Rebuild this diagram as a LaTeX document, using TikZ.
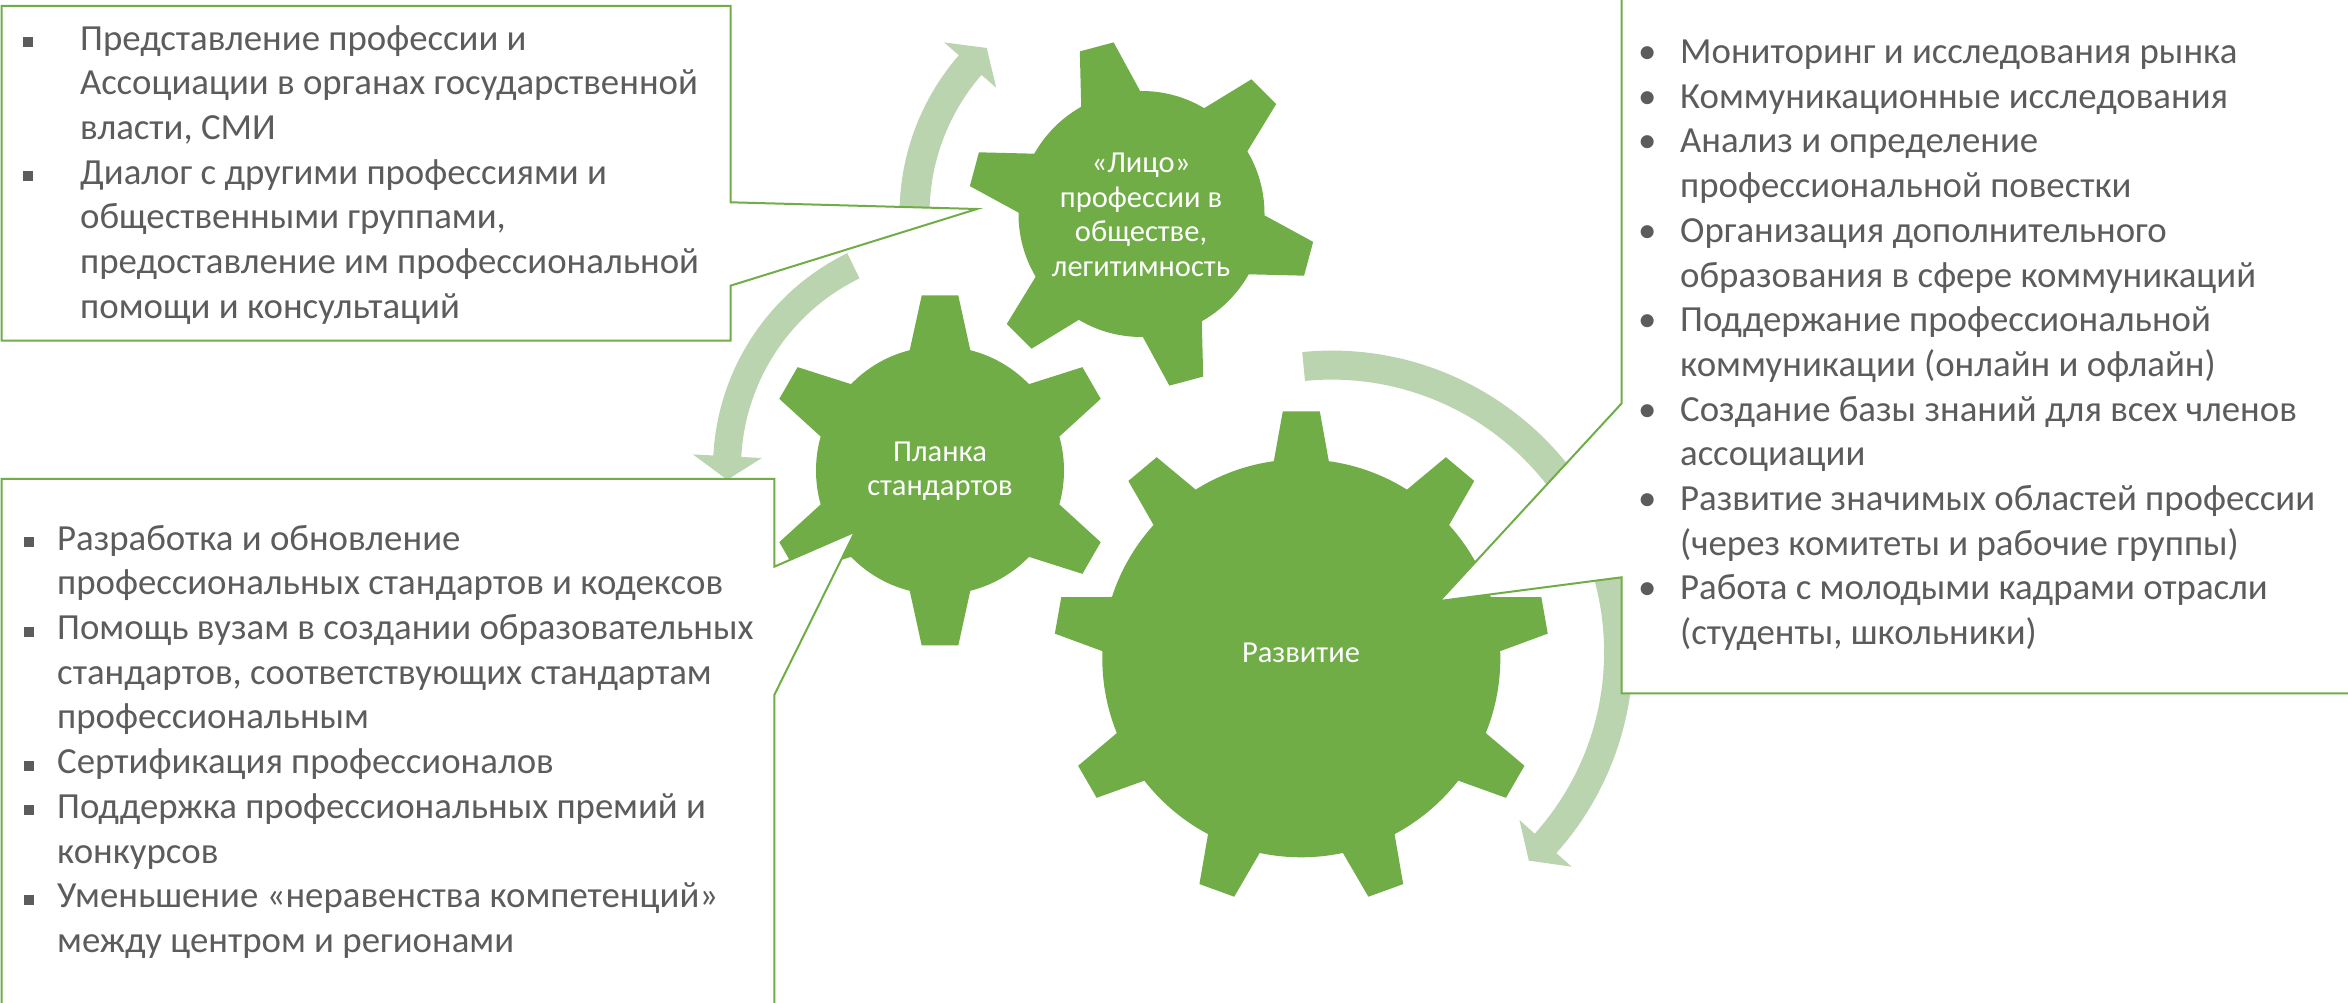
\documentclass[tikz,border=0pt]{standalone}
\usepackage{fontspec}
\setmainfont{Carlito}
\usetikzlibrary{calc}
\definecolor{gearc}{HTML}{70AD47}
\definecolor{arrowc}{HTML}{BBD4B0}
\definecolor{txt}{HTML}{5C5C5C}
\newcommand\gearshape[8]{% cx cy Rb Ro wo wb N a0
  \fill[gearc] (#1,#2) circle[radius=#3];
  \foreach \k in {1,...,#7}{%
    \pgfmathsetmacro\gang{#8+360/#7*(\k-1)}%
    \pgfmathsetmacro\gxb{#3*sqrt(1-(#6/#3)^2)}%
    \fill[gearc,shift={(#1,#2)},rotate=\gang] ({#3-30},-#6) -- (\gxb,-#6) -- (#4,-#5) -- (#4,#5) -- (\gxb,#6) -- ({#3-30},#6) -- cycle;
  }%
}
% cx cy r w a1 a2 atip h
\newcommand\circarrow[8]{%
  \fill[arrowc,shift={(#1,#2)}] (#5:{#3+#4/2}) arc[start angle=#5, end angle=#6, radius={#3+#4/2}]
    -- (#6:{#3+#8}) -- (#7:#3) -- (#6:{#3-#8}) -- (#6:{#3-#4/2})
    arc[start angle=#6, end angle=#5, radius={#3-#4/2}] -- cycle;
}
\newcommand\sqb{\raisebox{3pt}{\rule{10pt}{10pt}}}
\begin{document}
\begin{tikzpicture}[x=1pt,y=1pt,
  callout/.style={fill=white,draw=gearc,line width=2pt,line join=miter},
  geartext/.style={text=white,align=center,inner sep=0pt,font=\fontsize{30.5}{34.5}\selectfont},
  listtext/.style={anchor=north west,inner sep=0pt,text=txt,font=\fontsize{36.8}{44.7}\selectfont}]
\useasboundingbox (0,0) rectangle (2348,1002);
\clip (0,0) rectangle (2348,1002);
\fill[white] (0,0) rectangle (2348,1002);
% circular arrows
\circarrow{1141.5}{788}{227}{30}{182}{139}{133}{34.5}
\circarrow{952}{534}{225}{28}{116}{177}{183}{34.5}
\circarrow{1331.6}{349.9}{287}{29}{95.6}{-41.8}{-46.6}{35}
% gears
\gearshape{1141.5}{788}{123}{173}{17.5}{30.5}{6}{-15}
\gearshape{940}{531.5}{124}{175}{18.3}{30.3}{6}{-30}
\gearshape{1301.3}{343.7}{199}{247}{18.5}{27.5}{9}{10}
\node[geartext] (g1) at (1141,787) {«Лицо»\\профессии в\\обществе,\\легитимность};
\node[geartext] (g2) at (940,531) {Планка\\стандартов};
\node[geartext] (g3) at (1301,349) {Развитие};
% callouts
\filldraw[callout] (1.5,996) -- (730.5,996) -- (730.5,799.7) -- (977,793) -- (730.5,716.3) -- (730.5,661.3) -- (1.5,661.3) -- cycle;
\filldraw[callout] (1621.7,1010) -- (1621.7,598.7) -- (1439.5,401) -- (1621.7,424.7) -- (1621.7,308.7) -- (2360,308.7) -- (2360,1010) -- cycle;
\filldraw[callout] (1.5,523) -- (774.3,523) -- (774.3,435.3) -- (855,470.3) -- (774.3,307) -- (774.3,-10) -- (1.5,-10) -- cycle;
% texts
\node[listtext] (t1) at (28,983.3) {%
\renewcommand\arraystretch{1}%
\begin{tabular}{@{}p{52pt}@{}l@{}}
\makebox[0pt][c]{\sqb} & Представление профессии и\\
 & Ассоциации в органах государственной\\
 & власти, СМИ\\
\makebox[0pt][c]{\sqb} & Диалог с другими профессиями и\\
 & общественными группами,\\
 & предоставление им профессиональной\\
 & помощи и консультаций
\end{tabular}};
\node[listtext] (t2) at (1647,969.9) {%
\renewcommand\arraystretch{1}%
\begin{tabular}{@{}p{33pt}@{}l@{}}
\makebox[0pt][c]{•} & Мониторинг и исследования рынка\\
\makebox[0pt][c]{•} & Коммуникационные исследования\\
\makebox[0pt][c]{•} & Анализ и определение\\
 & профессиональной повестки\\
\makebox[0pt][c]{•} & Организация дополнительного\\
 & образования в сфере коммуникаций\\
\makebox[0pt][c]{•} & Поддержание профессиональной\\
 & коммуникации (онлайн и офлайн)\\
\makebox[0pt][c]{•} & Создание базы знаний для всех членов\\
 & ассоциации\\
\makebox[0pt][c]{•} & Развитие значимых областей профессии\\
 & (через комитеты и рабочие группы)\\
\makebox[0pt][c]{•} & Работа с молодыми кадрами отрасли\\
 & (студенты, школьники)
\end{tabular}};
\node[listtext] (t3) at (29,483.3) {%
\renewcommand\arraystretch{1}%
\begin{tabular}{@{}p{28pt}@{}l@{}}
\makebox[0pt][c]{\sqb} & Разработка и обновление\\
 & профессиональных стандартов и кодексов\\
\makebox[0pt][c]{\sqb} & Помощь вузам в создании образовательных\\
 & стандартов, соответствующих стандартам\\
 & профессиональным\\
\makebox[0pt][c]{\sqb} & Сертификация профессионалов\\
\makebox[0pt][c]{\sqb} & Поддержка профессиональных премий и\\
 & конкурсов\\
\makebox[0pt][c]{\sqb} & Уменьшение «неравенства компетенций»\\
 & между центром и регионами
\end{tabular}};
\end{tikzpicture}
\end{document}
